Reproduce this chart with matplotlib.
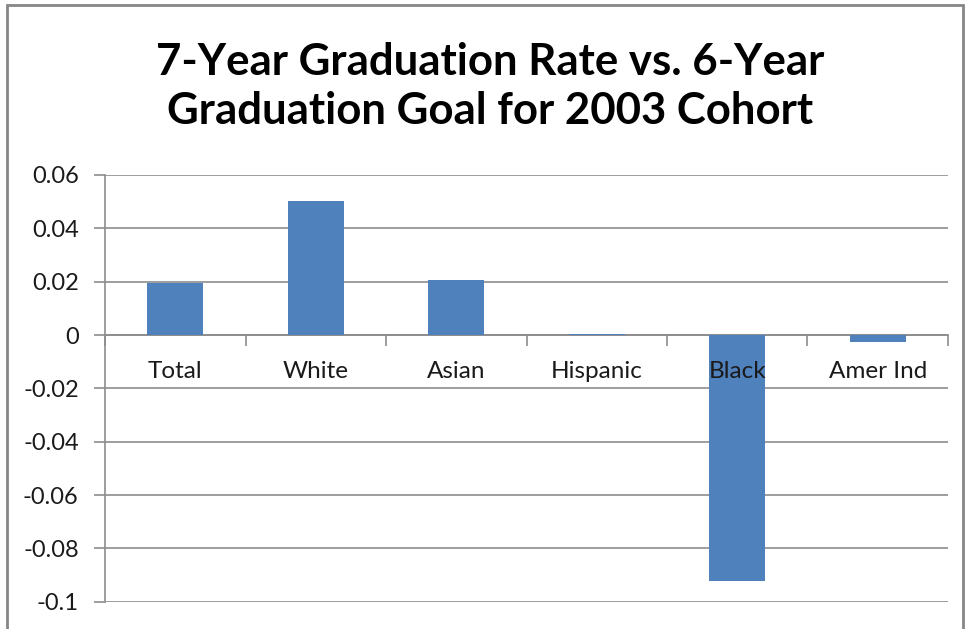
import matplotlib.pyplot as plt
from matplotlib.patches import Rectangle
import numpy as np

groups = ['Total', 'White', 'Asian', 'Hispanic', 'Black', 'Amer Ind']
diff = [0.0195, 0.0503, 0.0205, 0.0005, -0.0923, -0.0025]
yticks = [-0.1, -0.08, -0.06, -0.04, -0.02, 0, 0.02, 0.04, 0.06]
ytick_labels = ['-0.1', '-0.08', '-0.06', '-0.04', '-0.02', '0', '0.02', '0.04', '0.06']

plt.rcParams['font.family'] = ['Lato', 'DejaVu Sans']

fig = plt.figure(figsize=(9.69, 6.29), dpi=100)
ax = fig.add_axes([0.1084, 0.0434, 0.8699, 0.6784])

x = np.arange(len(groups))
ax.bar(x, diff, width=0.4, color='#4f81bd', zorder=3)

ax.set_xlim(-0.5, len(groups) - 0.5)
ax.set_ylim(-0.1, 0.06)
ax.set_yticks(yticks)
ax.set_yticklabels(ytick_labels, fontsize=17, color='#1a1a1a')
ax.yaxis.grid(True, color='#8c8c8c', linewidth=1.2, zorder=0)
ax.tick_params(axis='y', length=8, width=1.2, color='#8c8c8c', pad=11)

# category axis sits at zero, ticks between categories
ax.spines['bottom'].set_position(('data', 0))
ax.spines['bottom'].set_color('#8c8c8c')
ax.spines['bottom'].set_linewidth(1.2)
ax.spines['left'].set_color('#8c8c8c')
ax.spines['left'].set_linewidth(1.2)
ax.spines['top'].set_visible(False)
ax.spines['right'].set_visible(False)
ax.set_xticks(np.arange(len(groups) + 1) - 0.5)
ax.set_xticklabels([])
ax.tick_params(axis='x', direction='out', length=8, width=1.2, color='#8c8c8c')
for i, g in enumerate(groups):
    ax.annotate(g, (i, 0), xytext=(0, -26), textcoords='offset points',
                ha='center', va='center', fontsize=17.5, color='#1a1a1a',
                annotation_clip=False, zorder=5)

fig.text(0.506, 0.862, '7-Year Graduation Rate vs. 6-Year\nGraduation Goal for 2003 Cohort',
         ha='center', va='center', fontsize=31.5, fontweight='bold', linespacing=1.28)

fig.patches.append(Rectangle((7 / 969, -0.05), 956 / 969, 1 - 5 / 629 + 0.05,
                             transform=fig.transFigure, fill=False,
                             edgecolor='#868686', linewidth=2))

fig.savefig('out.png', dpi=100)
